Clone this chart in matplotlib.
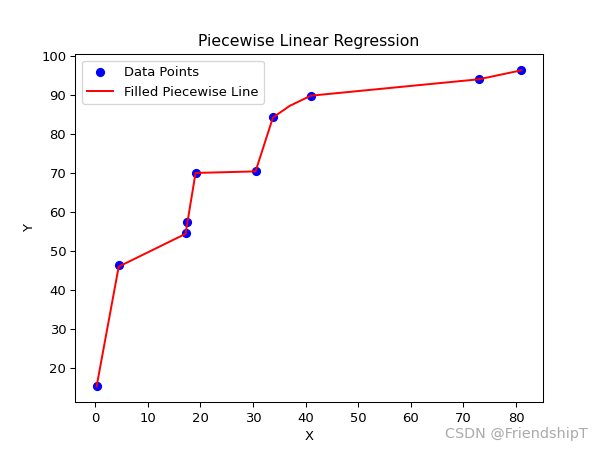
import numpy as np
import matplotlib
matplotlib.use("Agg")
import matplotlib.pyplot as plt

# Observed data points
x_data = [0.3, 4.5, 17.2, 17.4, 19.1, 30.5, 33.8, 41.0, 72.9, 81.0]
y_data = [15.5, 46.3, 54.6, 57.4, 70.0, 70.4, 84.4, 89.7, 94.1, 96.4]

# Knots of the fitted piecewise line
x_fit = [0.3, 4.5, 17.2, 19.1, 30.5, 33.8, 37.0, 41.0, 72.9, 81.0]
y_fit = [15.3, 46.0, 54.4, 70.0, 70.4, 84.2, 87.2, 89.8, 94.0, 96.3]

fig = plt.figure(figsize=(6.4, 4.8), dpi=94.2)

plt.scatter(x_data, y_data, color='blue', label='Data Points')
plt.plot(x_fit, y_fit, color='red', label='Filled Piecewise Line')

plt.title('Piecewise Linear Regression')
plt.xlabel('X')
plt.ylabel('Y')
plt.legend(loc='upper left')

# Watermark
fig.text(0.975, 0.025, 'CSDN @FriendshipT', ha='right', va='bottom',
         fontsize=11, color='#aaaaaa')

plt.savefig('out.png', dpi=94.2)
